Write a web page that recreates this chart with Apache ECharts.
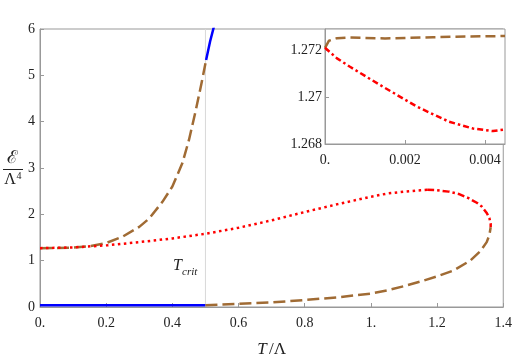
<!DOCTYPE html>
<html>
<head>
<meta charset="utf-8">
<script src="https://cdn.jsdelivr.net/npm/echarts@6/dist/echarts.min.js"></script>
<style>html,body{margin:0;padding:0;background:#fff}#c{width:515px;height:363px}</style>
</head>
<body>
<div id="c"></div>
<script>
// ---- main plot data (T/Λ, E/Λ^4) ----
const blueLow = [[0, 0.04], [0.25, 0.04], [0.5, 0.04]];
const blueHigh = [[0.502, 5.33], [0.514, 5.73], [0.527, 6.09]];
const brownUpper = [[0, 1.27], [0.1, 1.28], [0.15, 1.31], [0.2, 1.38], [0.25, 1.52], [0.3, 1.73], [0.33, 1.91], [0.37, 2.27], [0.4, 2.6], [0.43, 3.1], [0.45, 3.6], [0.47, 4.22], [0.487, 4.79], [0.502, 5.33]];
const redDotted = [[0, 1.27], [0.1, 1.285], [0.2, 1.33], [0.3, 1.40], [0.4, 1.48], [0.5, 1.58], [0.6, 1.71], [0.7, 1.87], [0.8, 2.05], [0.9, 2.22], [1.0, 2.38], [1.05, 2.45], [1.1, 2.49], [1.15, 2.52], [1.17, 2.53]];
const redDashDot = [[1.17, 2.53], [1.2, 2.52], [1.235, 2.49], [1.265, 2.44], [1.295, 2.35], [1.32, 2.25], [1.335, 2.17], [1.35, 2.03], [1.358, 1.92], [1.362, 1.80], [1.362, 1.72]];
const brownLower = [[0.5, 0.04], [0.6, 0.07], [0.7, 0.10], [0.8, 0.15], [0.9, 0.21], [1.0, 0.29], [1.05, 0.36], [1.1, 0.45], [1.15, 0.55], [1.2, 0.66], [1.25, 0.79], [1.3, 1.0], [1.33, 1.2], [1.35, 1.40], [1.358, 1.55], [1.362, 1.72]];
const critLine = [[0.5, 0], [0.5, 6]];
const xTicksMain = [0, 0.2, 0.4, 0.6, 0.8, 1.0, 1.2, 1.4];
const xLabelsMain = ['0.', '0.2', '0.4', '0.6', '0.8', '1.', '1.2', '1.4'];
const yTicksMain = [0, 1, 2, 3, 4, 5, 6];
// ---- inset data ----
const insetBrown = [[0, 1.2721], [0.0001, 1.2724], [0.0003, 1.27251], [0.0006, 1.27254], [0.001, 1.27252], [0.0015, 1.2725], [0.002, 1.27252], [0.0027, 1.27255], [0.0035, 1.27258], [0.0045, 1.2726]];
const insetRed = [[0, 1.2721], [0.0003, 1.27165], [0.000625, 1.27129], [0.001, 1.2709], [0.00145, 1.27044], [0.0023, 1.26959], [0.0031, 1.26895], [0.0037, 1.26866], [0.0042, 1.26855], [0.0045, 1.26862]];
const xTicksInset = [0, 0.002, 0.004];
const xLabelsInset = ['0.', '0.002', '0.004'];
const yTicksInset = [1.268, 1.27, 1.272];
const yLabelsInset = ['1.268', '1.27', '1.272'];

const FONT = 'Liberation Serif, DejaVu Serif, serif';
const AX = '#999';
const BROWN = '#a06b34';
const RED = '#ff0000';
const BLUE = '#0000ff';

function lbl(vals, labels) {
  return function (v) {
    for (let i = 0; i < vals.length; i++) if (Math.abs(v - vals[i]) < 1e-9) return labels[i];
    return '';
  };
}

const chart = echarts.init(document.getElementById('c'), null, {renderer: 'canvas'});
const line = (data, xi, color, width, dash, z) => ({
  type: 'line', data, xAxisIndex: xi, yAxisIndex: xi, showSymbol: false, symbol: 'none',
  smooth: false, clip: true, z: z || 3, animation: false,
  lineStyle: {color, width, type: dash || 'solid', cap: 'butt', join: 'round'}
});

chart.setOption({
  animation: false,
  grid: [
    {left: 40, right: 10, top: 29, bottom: 56, show: true, borderColor: AX, borderWidth: 1, z: 1},
    {left: 325, top: 29, width: 180, height: 115, show: true, backgroundColor: '#fff', borderColor: AX, borderWidth: 1, z: 5}
  ],
  xAxis: [
    {type: 'value', gridIndex: 0, min: 0, max: 1.4, interval: 0.2,
     axisLine: {lineStyle: {color: AX}}, axisTick: {inside: true, length: 4, lineStyle: {color: AX}},
     splitLine: {show: false},
     axisLabel: {fontFamily: FONT, fontSize: 14, color: '#222', margin: 9, formatter: lbl(xTicksMain, xLabelsMain)}},
    {type: 'value', gridIndex: 1, min: 0, max: 0.0045, z: 6,
     axisLine: {lineStyle: {color: AX}},
     axisTick: {inside: true, length: 4, lineStyle: {color: AX}, customValues: xTicksInset},
     splitLine: {show: false},
     axisLabel: {fontFamily: FONT, fontSize: 14, color: '#222', margin: 9, customValues: xTicksInset, formatter: lbl(xTicksInset, xLabelsInset)}}
  ],
  yAxis: [
    {type: 'value', gridIndex: 0, min: 0, max: 6, interval: 1,
     axisLine: {lineStyle: {color: AX}}, axisTick: {inside: true, length: 4, lineStyle: {color: AX}},
     splitLine: {show: false},
     axisLabel: {fontFamily: FONT, fontSize: 14, color: '#222', margin: 5}},
    {type: 'value', gridIndex: 1, min: 1.268, max: 1.2729, z: 6,
     axisLine: {lineStyle: {color: AX}},
     axisTick: {inside: true, length: 4, lineStyle: {color: AX}, customValues: yTicksInset},
     splitLine: {show: false},
     axisLabel: {fontFamily: FONT, fontSize: 14, color: '#222', margin: 3, customValues: yTicksInset, formatter: lbl(yTicksInset, yLabelsInset)}}
  ],
  series: [
    line(critLine, 0, '#d8d8d8', 1, 'solid', 2),
    line(blueLow, 0, BLUE, 2.5),
    line(blueHigh, 0, BLUE, 2.5),
    line(brownUpper, 0, BROWN, 2.5, [12, 5]),
    line(redDotted, 0, RED, 2.5, [2.5, 3.5]),
    line(redDashDot, 0, RED, 2.5, [7, 3, 2.5, 3]),
    line(brownLower, 0, BROWN, 2.5, [12, 5]),
    line(insetBrown, 1, BROWN, 2.5, [10, 5], 10),
    line(insetRed, 1, RED, 2.5, [6, 3, 2.5, 3], 10)
  ],
  graphic: [
    {type: 'text', x: 12, y: 158, style: {text: 'ℰ', font: '18px ' + FONT, fill: '#222', align: 'center', verticalAlign: 'middle'}},
    {type: 'line', shape: {x1: 3, y1: 169.5, x2: 23, y2: 169.5}, style: {stroke: '#222', lineWidth: 1}},
    {type: 'text', x: 10, y: 180, style: {text: 'Λ', font: '16px ' + FONT, fill: '#222', align: 'center', verticalAlign: 'middle'}},
    {type: 'text', x: 16.5, y: 176, style: {text: '4', font: '10px ' + FONT, fill: '#222', align: 'left', verticalAlign: 'middle'}},
    {type: 'text', x: 262, y: 350, style: {text: 'T', font: 'italic 17px ' + FONT, fill: '#222', align: 'center', verticalAlign: 'middle'}},
    {type: 'text', x: 269, y: 350, style: {text: '/Λ', font: '17px ' + FONT, fill: '#222', align: 'left', verticalAlign: 'middle'}},
    {type: 'text', x: 173, y: 266, style: {text: 'T', font: 'italic 16px ' + FONT, fill: '#222', align: 'left', verticalAlign: 'middle'}},
    {type: 'text', x: 182, y: 272, style: {text: 'crit', font: 'italic 11px ' + FONT, fill: '#222', align: 'left', verticalAlign: 'middle'}}
  ]
});
</script>
</body>
</html>
